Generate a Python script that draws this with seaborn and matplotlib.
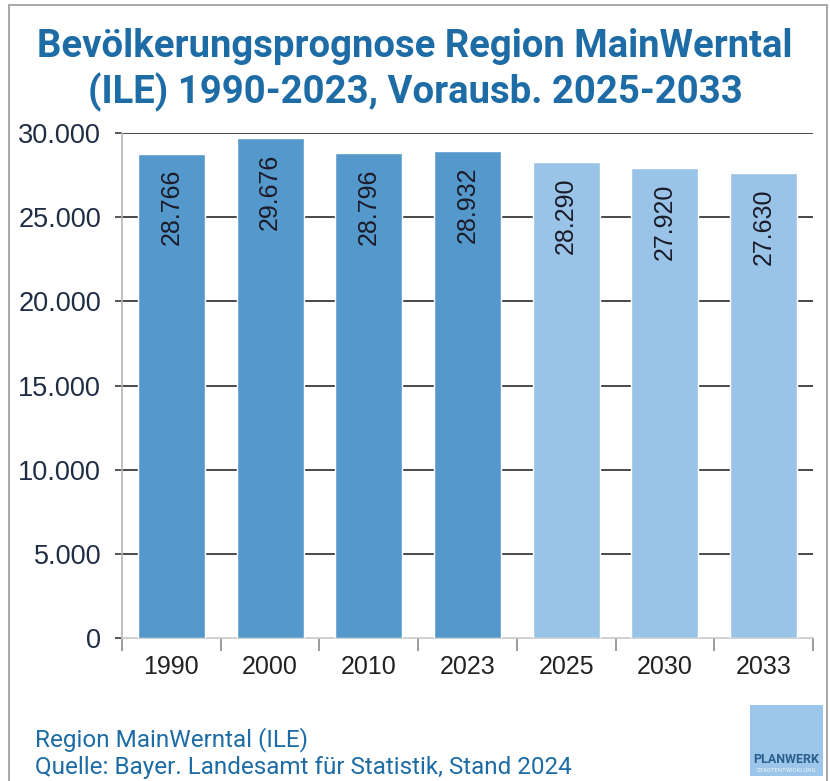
import matplotlib.pyplot as plt
import matplotlib.ticker as mticker
from matplotlib.patches import Rectangle
import seaborn as sns
import pandas as pd

years = ['1990', '2000', '2010', '2023', '2025', '2030', '2033']
population = [28766, 29676, 28796, 28932, 28290, 27920, 27630]
kind = ['Bestand', 'Bestand', 'Bestand', 'Bestand', 'Prognose', 'Prognose', 'Prognose']
y_ticks = [0, 5000, 10000, 15000, 20000, 25000, 30000]

df = pd.DataFrame({'Jahr': years, 'Einwohner': population, 'Art': kind})

title_blue = '#1d6ca6'
colors = {'Bestand': '#5598cb', 'Prognose': '#99c4e7'}


def de_fmt(v):
    return f"{int(v):,}".replace(',', '.')


sns.set_theme(style='white')
plt.rcParams['font.family'] = ['Liberation Sans', 'DejaVu Sans']

fig = plt.figure(figsize=(8.3, 7.81), dpi=100)
ax = fig.add_axes([0.147, 0.1831, 0.8325, 0.6466])

sns.barplot(data=df, x='Jahr', y='Einwohner', hue='Art', palette=colors,
            dodge=False, width=0.68, legend=False, saturation=1, ax=ax, zorder=3)

ax.set_ylim(0, 30000)
ax.set_xlim(-0.5, len(years) - 0.5)
ax.set_yticks(y_ticks)
ax.yaxis.set_major_formatter(mticker.FuncFormatter(lambda v, p: de_fmt(v)))
ax.set_xlabel('')
ax.set_ylabel('')

# gridlines behind bars
for t in y_ticks[1:]:
    ax.axhline(t, color='#3a3a3a', lw=1.3, zorder=1)

for s in ['top', 'right']:
    ax.spines[s].set_visible(False)
ax.spines['left'].set_color('#b5b5b5')
ax.spines['bottom'].set_color('#c8c8c8')
ax.spines['left'].set_linewidth(1.2)
ax.spines['bottom'].set_linewidth(1.2)

ax.tick_params(axis='y', which='major', left=True, length=5, width=1.2,
               color='#3a3a3a', pad=10, labelsize=19.5, labelcolor='#1f2d44')
ax.tick_params(axis='x', which='major', bottom=False, length=0, pad=12,
               labelsize=18, labelcolor='#222222')
ax.xaxis.set_minor_locator(mticker.FixedLocator([i - 0.5 for i in range(len(years) + 1)]))
ax.tick_params(axis='x', which='minor', bottom=True, length=9, width=1.2, color='#8a8a8a')

for i, v in enumerate(population):
    ax.annotate(de_fmt(v), xy=(i, v), xytext=(0, -11), textcoords='offset points',
                rotation=90, ha='center', va='top', fontsize=18, color='#1b1b28', zorder=5)

fig.text(0.5, 0.94, 'Bevölkerungsprognose Region MainWerntal', ha='center', va='center',
         fontsize=27.5, fontweight='bold', color=title_blue, family=['Roboto', 'DejaVu Sans'])
fig.text(0.5, 0.882, '(ILE) 1990-2023, Vorausb. 2025-2033', ha='center', va='center',
         fontsize=27.5, fontweight='bold', color=title_blue, family=['Roboto', 'DejaVu Sans'])

fig.text(0.042, 0.053, 'Region MainWerntal (ILE)', ha='left', va='center',
         fontsize=17.5, color=title_blue, family=['Roboto', 'DejaVu Sans'])
fig.text(0.042, 0.017, 'Quelle: Bayer. Landesamt für Statistik, Stand 2024', ha='left', va='center',
         fontsize=17.5, color=title_blue, family=['Roboto', 'DejaVu Sans'])

# logo box
fig.patches.append(Rectangle((0.904, 0.006), 0.087, 0.091, transform=fig.transFigure,
                             facecolor='#9cc6e9', edgecolor='none'))
fig.text(0.9475, 0.027, 'PLANWERK', ha='center', va='center', fontsize=9,
         fontweight='bold', color='#2b5f8f', family=['Roboto', 'DejaVu Sans'])
fig.text(0.9475, 0.013, 'STADTENTWICKLUNG', ha='center', va='center', fontsize=4.3,
         color='#eaf3fb', family=['Roboto', 'DejaVu Sans'])

# outer frame
fig.patches.append(Rectangle((0.011, -0.01), 0.985, 1.003, transform=fig.transFigure,
                             facecolor='none', edgecolor='#9a9a9a', lw=1.2))

plt.savefig('out.png', dpi=100)
plt.close()
